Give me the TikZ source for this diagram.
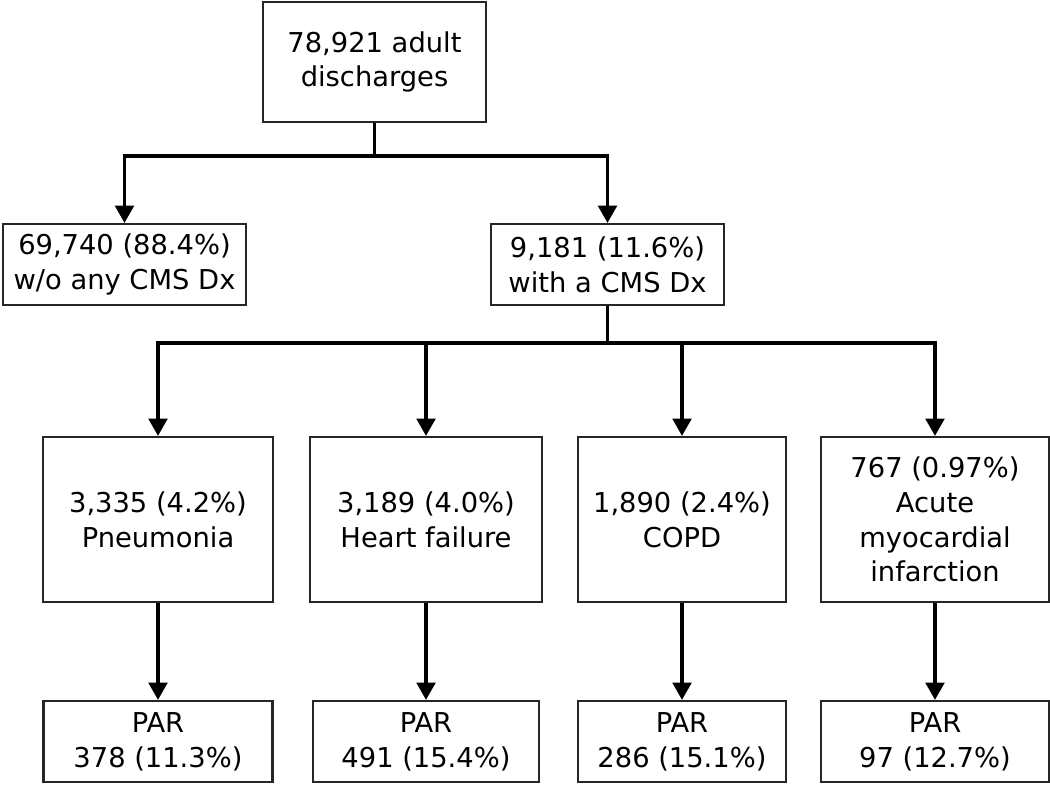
\documentclass[tikz,border=0pt]{standalone}
\usepackage{fontspec}
\setmainfont{DejaVu Sans}
\usetikzlibrary{arrows.meta,positioning}

\begin{document}
\begin{tikzpicture}[
    x=0.75pt, y=-0.75pt,
    font=\fontsize{20.5}{26}\selectfont,
    box/.style={draw=black!85, line width=1.6pt, align=center, fill=white, inner sep=0pt},
    line/.style={line width=2.6pt, draw=black},
    arr/.style={line, -{Triangle[width=14pt,length=13pt]}}
]
\useasboundingbox (0,0) rectangle (1050,785);

% Total discharges
\node[box, minimum width=223*0.75pt, minimum height=120*0.75pt] (total) at (374.5,62) {78,921 adult\\discharges};

% First split
\node[box, minimum width=243*0.75pt, minimum height=81*0.75pt] (nocms) at (124.5,264.5) {69,740 (88.4\%)\\w/o any CMS Dx};
\node[box, minimum width=233*0.75pt, minimum height=81*0.75pt] (cms) at (607.5,264.5) {9,181 (11.6\%)\\with a CMS Dx};

% CMS diagnoses
\node[box, minimum width=230*0.75pt, minimum height=165*0.75pt] (pneu) at (158,519.5) {3,335 (4.2\%)\\Pneumonia};
\node[box, minimum width=232*0.75pt, minimum height=165*0.75pt] (hf) at (426,519.5) {3,189 (4.0\%)\\Heart failure};
\node[box, minimum width=208*0.75pt, minimum height=165*0.75pt] (copd) at (682,519.5) {1,890 (2.4\%)\\COPD};
\node[box, minimum width=228*0.75pt, minimum height=165*0.75pt] (ami) at (935,519.5) {767 (0.97\%)\\Acute\\myocardial\\infarction};

% PAR boxes
\node[box, minimum width=229*0.75pt, minimum height=81*0.75pt] (parpneu) at (158,741.5) {PAR\\378 (11.3\%)};
\node[box, minimum width=226*0.75pt, minimum height=81*0.75pt] (parhf) at (426,741.5) {PAR\\491 (15.4\%)};
\node[box, minimum width=208*0.75pt, minimum height=81*0.75pt] (parcopd) at (682,741.5) {PAR\\286 (15.1\%)};
\node[box, minimum width=228*0.75pt, minimum height=81*0.75pt] (parami) at (935,741.5) {PAR\\97 (12.7\%)};

% Split points
\coordinate (split1) at (374.5,156);
\coordinate (split2) at (607.5,343);

% Connectors
\draw[line] (total.south) -- (split1);
\draw[arr] (split1) -| (nocms.north);
\draw[arr] (split1) -| (cms.north);

\draw[line] (cms.south) -- (split2);
\draw[arr] (split2) -| (pneu.north);
\draw[arr] (split2) -| (hf.north);
\draw[arr] (split2) -| (copd.north);
\draw[arr] (split2) -| (ami.north);

\draw[arr] (pneu.south) -- (parpneu.north);
\draw[arr] (hf.south) -- (parhf.north);
\draw[arr] (copd.south) -- (parcopd.north);
\draw[arr] (ami.south) -- (parami.north);

\end{tikzpicture}
\end{document}
